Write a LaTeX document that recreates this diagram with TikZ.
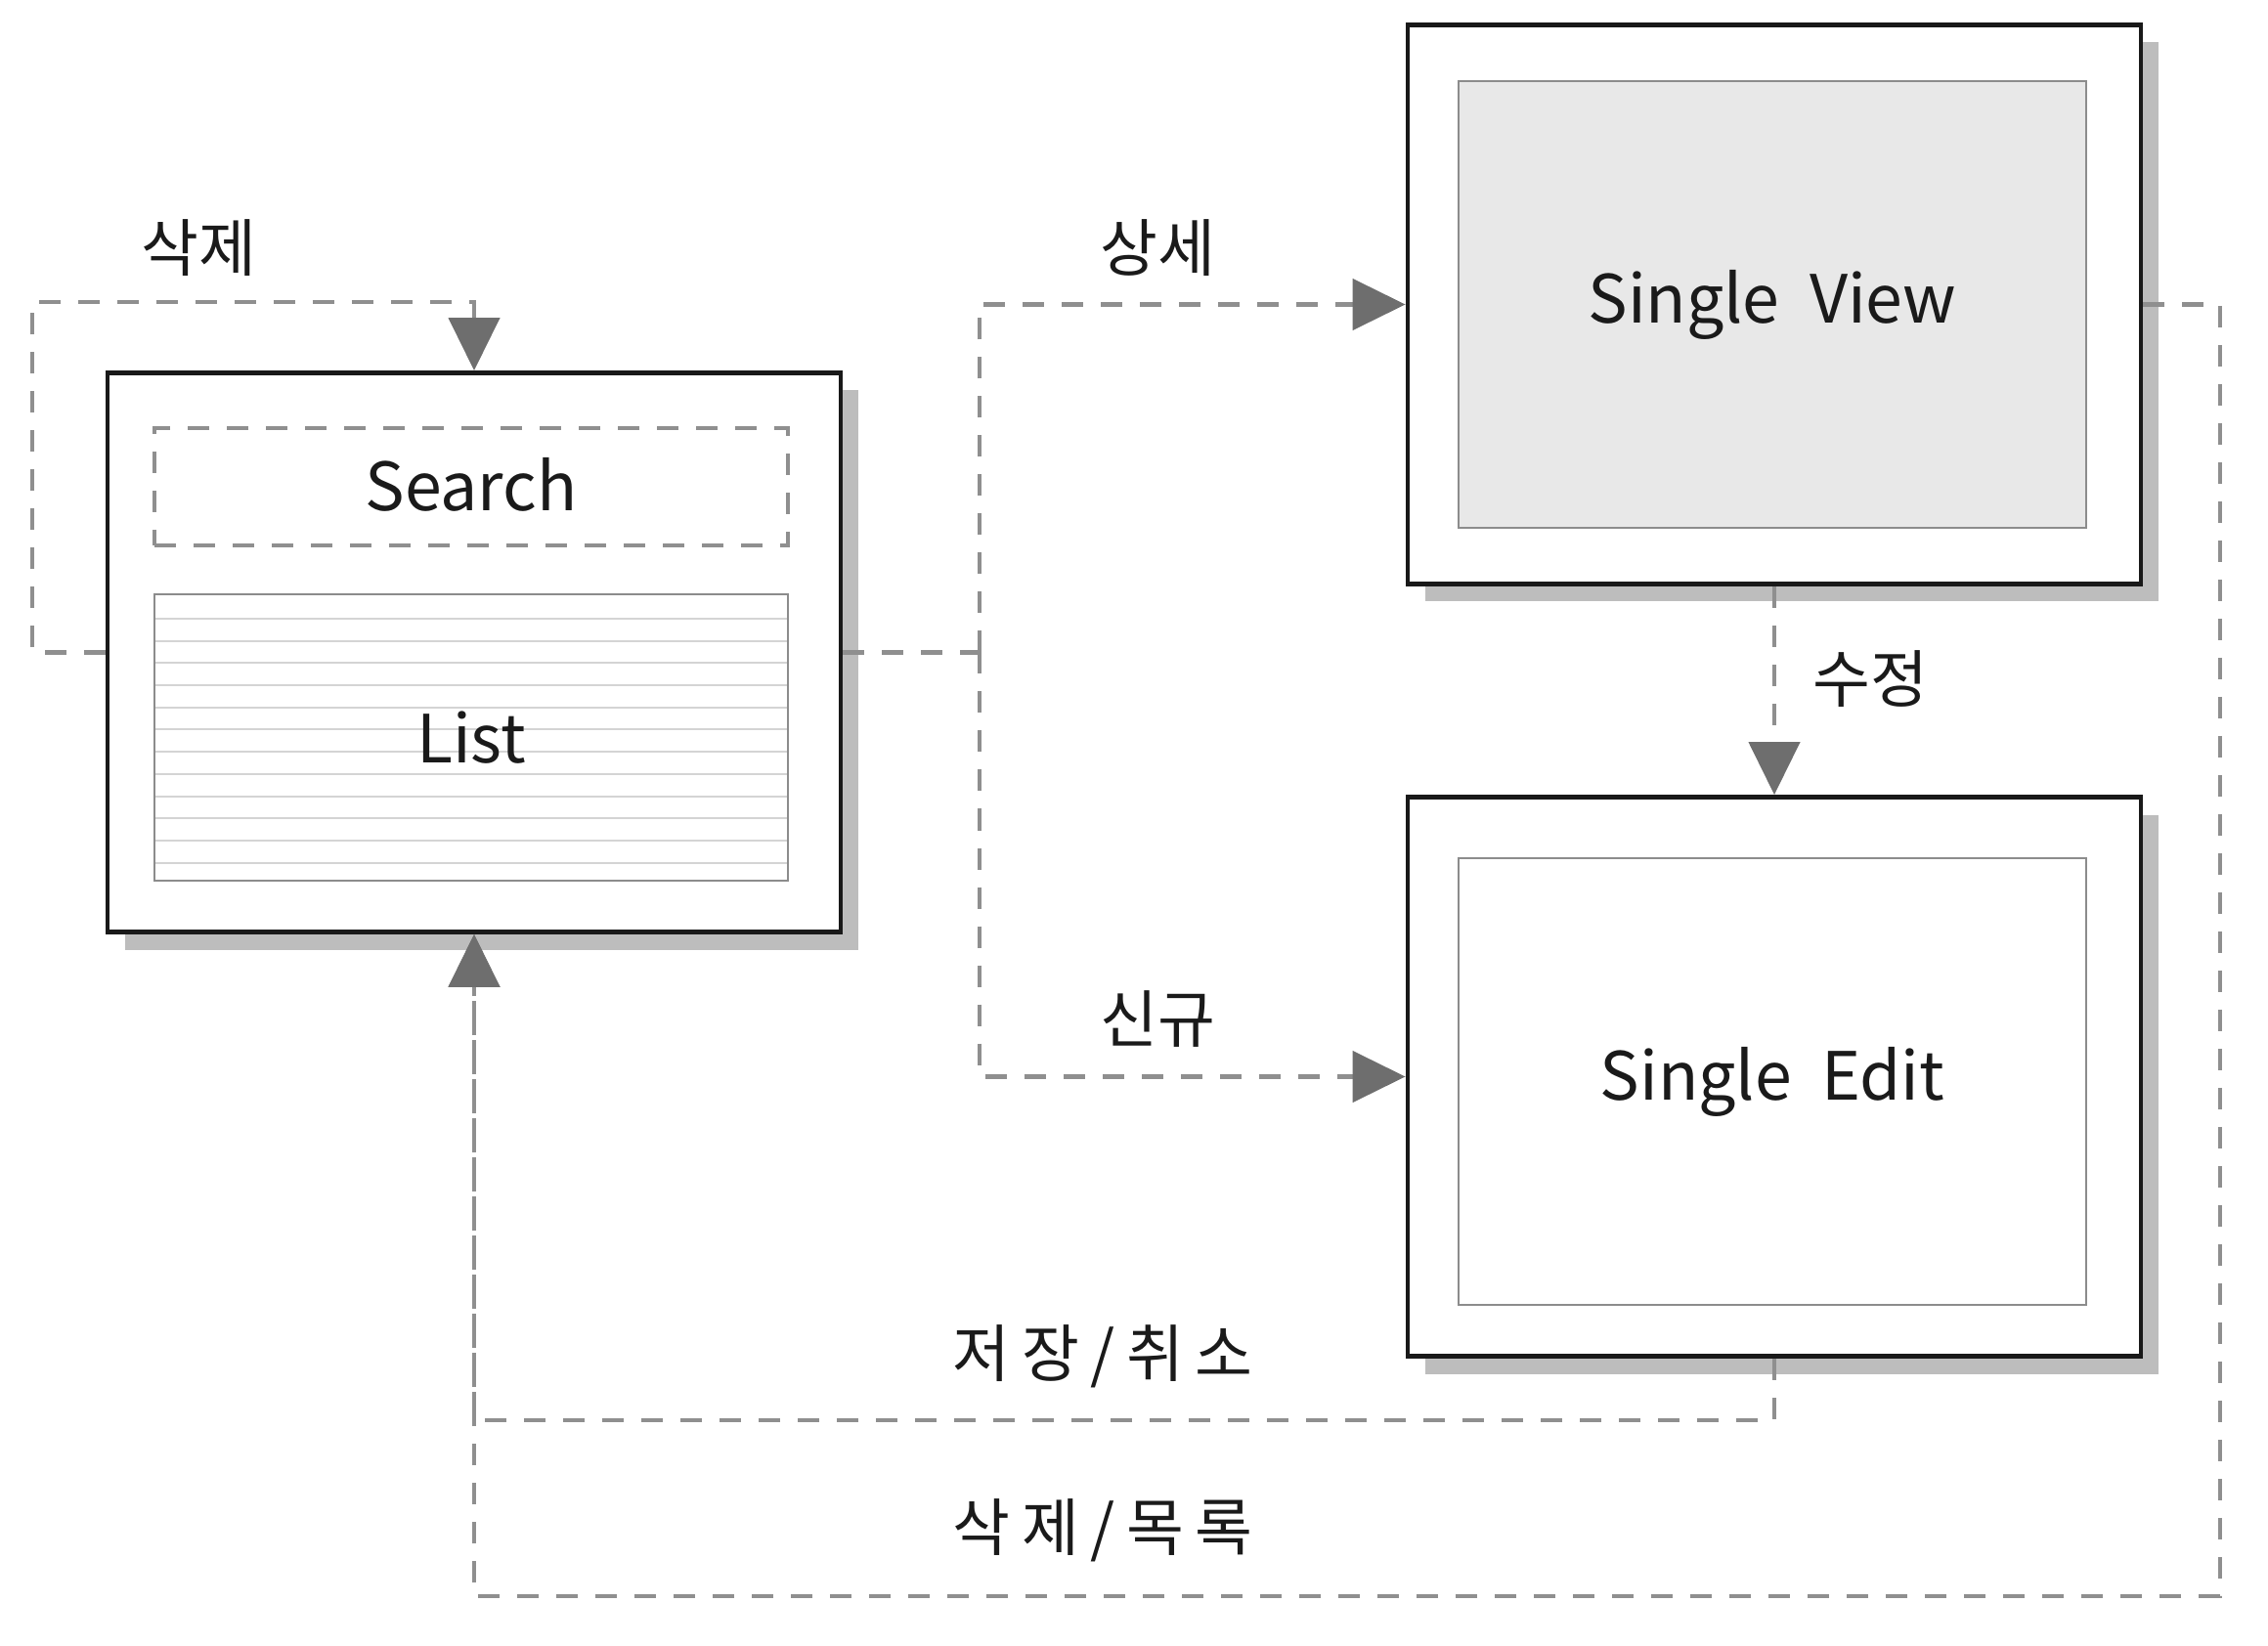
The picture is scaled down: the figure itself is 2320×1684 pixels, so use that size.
\documentclass[tikz,border=0pt]{standalone}
\usepackage{fontspec}
\setmainfont{Noto Sans CJK KR}
\usetikzlibrary{arrows.meta,shadows,calc}
\definecolor{conngray}{HTML}{8F8F8F}
\definecolor{arrowgray}{HTML}{6E6E6E}
\definecolor{innergray}{HTML}{8C8C8C}
\definecolor{shadowgray}{HTML}{BDBDBD}
\definecolor{fillgray}{HTML}{E8E8E8}
\definecolor{stripegray}{HTML}{D4D4D4}
\definecolor{txt}{HTML}{1A1A1A}
\tikzset{
  outerbox/.style={draw=black!90, line width=2.4pt, fill=white, inner sep=0pt,
    minimum width=375pt, minimum height=286pt,
    drop shadow={shadow xshift=9pt, shadow yshift=-9pt, fill=shadowgray, opacity=1}},
  innerbox/.style={draw=innergray, line width=1.4pt, inner sep=0pt, text=txt,
    font=\fontsize{34}{38}\selectfont},
  searchbox/.style={innerbox, dash pattern=on 11pt off 9pt, draw=conngray, line width=1.6pt},
  conn/.style={draw=conngray, line width=2.2pt, dash pattern=on 11pt off 9pt},
  arr/.style={conn, -{Triangle[length=27pt,width=26pt,color=arrowgray]}},
  lbl/.style={font=\fontsize{32}{36}\selectfont, text=txt, inner sep=0pt},
  widelbl/.style={lbl, font=\fontsize{32}{36}\selectfont\addfontfeature{LetterSpace=18}},
}
\begin{document}
\begin{tikzpicture}[x=0.5pt, y=-0.5pt]
\useasboundingbox (0,0) rectangle (2320,1684);
% List window
\node[outerbox] (list) at (485,667.5) {};
\node[searchbox, minimum width=324pt, minimum height=60pt] (search) at (482,498) {};
\node[lbl, font=\fontsize{34}{38}\selectfont] (searcht) at (482,496) {Search};
\node[innerbox, minimum width=324pt, minimum height=146.5pt,
  path picture={
    \foreach \k in {0,...,11}{
      \draw[stripegray, line width=1pt]
        ([yshift={-(12.5+11.35*\k)*1pt}]path picture bounding box.north west) --
        ([yshift={-(12.5+11.35*\k)*1pt}]path picture bounding box.north east);
    }
  }] (listin) at (482,754.5) {List};
% Single View
\node[outerbox] (sv) at (1815,311.5) {};
\node[innerbox, fill=fillgray, minimum width=321pt, minimum height=228.5pt] (svin) at (1813,311.5) {Single\ \ View};
% Single Edit
\node[outerbox] (se) at (1815,1101.5) {};
\node[innerbox, fill=white, minimum width=321pt, minimum height=228.5pt] (sein) at (1813,1106.5) {Single\ \ Edit};
% helper coordinates
\coordinate (loopcorner) at (33,309);
\coordinate (branch) at (1002,667.5);
\coordinate (bottomright) at (2271,1633);
% connectors
\draw[arr] (list.west) -| (loopcorner) -| (list.north);
\draw[conn] (list.east) -- (branch);
\draw[arr] (branch) |- (sv.west);
\draw[arr] (branch) |- (se.west);
\draw[arr] (sv.south) -- (se.north);
\draw[arr] (se.south) -- ++(0,63) -| (list.south);
\draw[arr] (sv.east) -| (bottomright) -| (list.south);
% labels
\node[lbl] (l1) at (203,254) {삭제};
\node[lbl] (l2) at (1184,254) {상세};
\node[lbl] (l3) at (1184,1043) {신규};
\node[lbl] (l4) at (1913,695) {수정};
\node[widelbl] (l5) at (1128,1388) {저장/취소};
\node[widelbl] (l6) at (1128,1566) {삭제/목록};
\end{tikzpicture}
\end{document}
